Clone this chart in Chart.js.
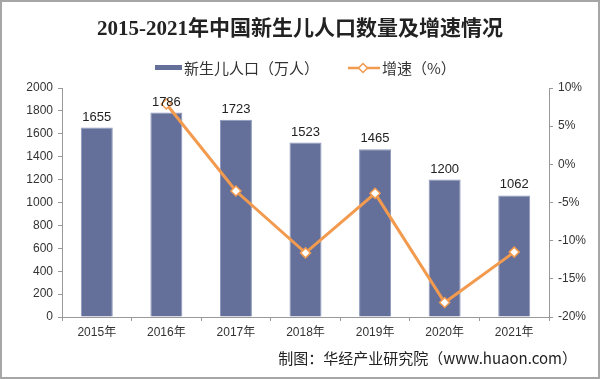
<!DOCTYPE html>
<html>
<head>
<meta charset="utf-8">
<script src="https://cdn.jsdelivr.net/npm/chart.js@4/dist/chart.umd.min.js"></script>
<style>
    html, body { margin: 0; padding: 0; background: #fff; }
    #wrap { position: relative; width: 600px; height: 379px; box-sizing: border-box; border: 2px solid #a6a6a6; }
    canvas { position: absolute; left: -2px; top: -2px; }
</style>
</head>
<body>
<div id="wrap"><canvas id="chart" width="600" height="379"></canvas></div>
<script>
// 数据
const years = ["2015年", "2016年", "2017年", "2018年", "2019年", "2020年", "2021年"];
const births = [1655, 1786, 1723, 1523, 1465, 1200, 1062]; // 万人
const growth = [null, 7.9, -3.5, -11.6, -3.8, -18.1, -11.5]; // %
const leftTicks = [0, 2000, 200];
const rightTicks = [-20, 10, 5];

const titleText = "2015-2021年中国新生儿人口数量及增速情况";
const barLabel = "新生儿人口（万人）";
const lineLabel = "增速（%）";
const sourceText = "制图：华经产业研究院（www.huaon.com）";

const barColor = "#65709a";
const lineColor = "#f29a4e";
const fontFamily = "'Liberation Sans', Arial, 'Noto Sans CJK SC', sans-serif";

// 标题、图例、来源、柱顶数值
const decorPlugin = {
    id: "decor",
    afterDraw(chart) {
        const c = chart.ctx;
        c.save();
        // 标题
        c.fillStyle = "#222";
        c.font = "bold 21px 'Liberation Serif', 'Noto Sans CJK SC', serif";
        c.textAlign = "center";
        c.textBaseline = "middle";
        c.fillText(titleText, 300, 30);

        // 图例
        c.font = "15px 'Noto Sans CJK SC', sans-serif";
        c.textAlign = "left";
        c.fillStyle = barColor;
        c.fillRect(155, 65, 27, 5);
        c.fillStyle = "#333";
        c.fillText(barLabel, 184, 68);
        c.strokeStyle = lineColor;
        c.lineWidth = 2.5;
        c.beginPath();
        c.moveTo(348, 68);
        c.lineTo(380, 68);
        c.stroke();
        c.fillStyle = "#fff";
        c.lineWidth = 1.5;
        c.beginPath();
        c.moveTo(363, 63.5); c.lineTo(367.5, 68); c.lineTo(363, 72.5); c.lineTo(358.5, 68); c.closePath();
        c.fill(); c.stroke();
        c.fillStyle = "#333";
        c.fillText(lineLabel, 382, 68);

        // 来源
        c.font = "15px 'Noto Sans CJK SC', sans-serif";
        c.textAlign = "right";
        c.fillStyle = "#222";
        c.fillText(sourceText, 577, 358);

        // 柱顶数值
        const meta = chart.getDatasetMeta(1);
        c.font = "13px " + fontFamily;
        c.textAlign = "center";
        c.textBaseline = "bottom";
        c.fillStyle = "#222";
        meta.data.forEach((bar, i) => {
            c.fillText(String(births[i]), bar.x, bar.y - 4);
        });
        c.restore();
    }
};

const tickFont = { family: fontFamily, size: 12 };

new Chart(document.getElementById("chart").getContext("2d"), {
    data: {
        labels: years,
        datasets: [
            {
                type: "line",
                label: lineLabel,
                data: growth,
                yAxisID: "y1",
                borderColor: lineColor,
                borderWidth: 3,
                pointStyle: "rectRot",
                pointRadius: 5,
                pointBorderWidth: 1.5,
                pointBackgroundColor: "#fff",
                pointBorderColor: lineColor,
                spanGaps: false,
                order: 0
            },
            {
                type: "bar",
                label: barLabel,
                data: births,
                yAxisID: "y",
                backgroundColor: barColor,
                borderColor: "#8d97bb",
                borderWidth: 1,
                barPercentage: 0.46,
                categoryPercentage: 1,
                order: 1
            }
        ]
    },
    options: {
        responsive: false,
        animation: false,
        layout: { padding: { top: 88, bottom: 42, left: 6, right: 6 } },
        plugins: {
            legend: { display: false },
            tooltip: { enabled: false }
        },
        scales: {
            x: {
                grid: { display: true, drawOnChartArea: false, drawTicks: true, tickLength: 4, color: "#999", offset: true },
                border: { color: "#999" },
                ticks: { font: tickFont, color: "#333", padding: 4 },
                afterFit(s) { s.height = 20; }
            },
            y: {
                position: "left",
                min: leftTicks[0],
                max: leftTicks[1],
                ticks: { stepSize: leftTicks[2], font: tickFont, color: "#333", padding: 5, callback: v => String(v) },
                grid: { display: true, drawOnChartArea: false, tickLength: 4, color: "#999" },
                border: { color: "#999" },
                afterFit(s) { s.width = 56; }
            },
            y1: {
                position: "right",
                min: rightTicks[0],
                max: rightTicks[1],
                ticks: { stepSize: rightTicks[2], font: tickFont, color: "#333", padding: 5, callback: v => v + "%" },
                grid: { display: true, drawOnChartArea: false, tickLength: 4, color: "#999" },
                border: { color: "#999" },
                afterFit(s) { s.width = 45; }
            }
        }
    },
    plugins: [decorPlugin]
});
</script>
</body>
</html>
